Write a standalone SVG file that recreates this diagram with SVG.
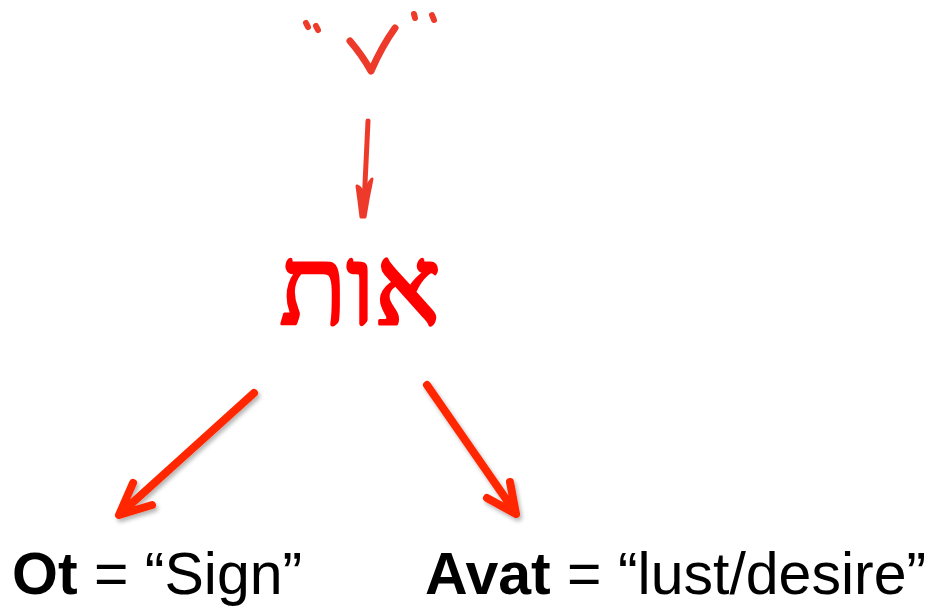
<svg xmlns="http://www.w3.org/2000/svg" width="929" height="606" viewBox="0 0 929 606">
<defs>
<style>
.hand{fill:none;stroke:#EE3A2A;stroke-linecap:round;stroke-linejoin:round}
.arr{fill:none;stroke:#FF2800;stroke-width:8;stroke-linecap:round;stroke-linejoin:round;filter:url(#sh)}
.lbl{font-family:"Liberation Sans",Arial,sans-serif;font-size:59px;fill:#000}
.heb{font-family:"Liberation Serif","DejaVu Serif",serif;font-size:110px;fill:#FF0000;stroke:#FF0000;stroke-width:3;stroke-linejoin:round}
</style>
<filter id="sh" x="-20%" y="-20%" width="140%" height="140%">
<feGaussianBlur in="SourceAlpha" stdDeviation="2"/>
<feOffset dx="2" dy="3" result="b"/>
<feComponentTransfer><feFuncA type="linear" slope="0.3"/></feComponentTransfer>
<feMerge><feMergeNode/><feMergeNode in="SourceGraphic"/></feMerge>
</filter>
</defs>
<rect width="929" height="606" fill="#fff"/>
<g id="root">
<path class="hand" stroke-width="7" d="M350,41 Q362,55 371,71 Q382,46 395,28"/>
<path class="hand" stroke-width="6" d="M306,23 L308,27 M316,26 L318,30 M414,14 L415,18 M432,15 L434,20"/>
</g>
<g id="word">
<text class="heb" x="360" y="324" text-anchor="middle">אות</text>
</g>
<g id="ot">
<text class="lbl" x="12" y="594"><tspan font-weight="bold">Ot</tspan> = “Sign”</text>
</g>
<g id="avat">
<text class="lbl" x="425" y="594"><tspan font-weight="bold">Avat</tspan> = “lust/desire”</text>
</g>
<g id="connectors">
<path class="hand" stroke-width="5" d="M368,121 L364,205"/>
<path d="M357,186 Q359,200 361,217 L365,217 Q368,198 372,179 Q366,186 364,196 Q362,188 357,186 Z" fill="#EE3A2A" stroke="#EE3A2A" stroke-width="3" stroke-linejoin="round"/>
<path class="arr" d="M254,393 L120,514 M133,483 L119,515 L152,505"/>
<path class="arr" d="M427,385 L515,512 M510,482 L516,514 L487,498"/>
</g>
</svg>
